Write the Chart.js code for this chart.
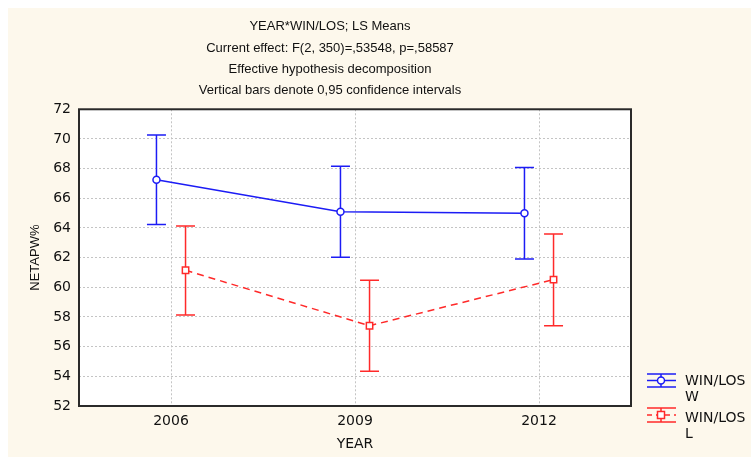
<!DOCTYPE html>
<html>
<head>
<meta charset="utf-8">
<script src="https://cdn.jsdelivr.net/npm/chart.js@4"></script>
<style>
  html, body { margin: 0; padding: 0; background: #ffffff; }
  #panel { position: absolute; left: 8px; top: 8px; width: 743px; height: 449px; background: #fdf8ec; }
</style>
</head>
<body>
<div id="panel"><canvas id="grafico" width="743" height="449"></canvas></div>
<script>
// dados
const years = ["2006", "2009", "2012"];
const wMean = [67.25, 65.1, 65.0];
const wLow = [64.23, 62.03, 61.9];
const wHigh = [70.27, 68.16, 68.07];
const lMean = [61.15, 57.41, 60.52];
const lLow = [58.13, 54.34, 57.41];
const lHigh = [64.14, 60.48, 63.6];
const yTicks = [52, 54, 56, 58, 60, 62, 64, 66, 68, 70, 72];
const titleLines = [
  "YEAR*WIN/LOS; LS Means",
  "Current effect: F(2, 350)=,53548, p=,58587",
  "Effective hypothesis decomposition",
  "Vertical bars denote 0,95 confidence intervals"
];

const BLUE = "#1c1cf5";
const RED = "#ff2a2a";
const shift = 0.079;

function pontos(vals, dx) {
  return vals.map((v, i) => ({ x: i + 1 + dx, y: v }));
}

// barras de erro
const barrasErro = {
  id: "barrasErro",
  beforeDatasetsDraw(chart) {
    const ctx = chart.ctx;
    const y = chart.scales.y;
    chart.data.datasets.forEach((ds, di) => {
      const meta = chart.getDatasetMeta(di);
      ctx.save();
      ctx.strokeStyle = ds.borderColor;
      ctx.lineWidth = 1.5;
      meta.data.forEach((pt, i) => {
        const top = y.getPixelForValue(ds.high[i]);
        const bot = y.getPixelForValue(ds.low[i]);
        ctx.beginPath();
        ctx.moveTo(pt.x, top); ctx.lineTo(pt.x, bot);
        ctx.moveTo(pt.x - 9.5, top); ctx.lineTo(pt.x + 9.5, top);
        ctx.moveTo(pt.x - 9.5, bot); ctx.lineTo(pt.x + 9.5, bot);
        ctx.stroke();
      });
      ctx.restore();
    });
  }
};

// fundo branco da área e moldura
const moldura = {
  id: "moldura",
  beforeDraw(chart) {
    const { ctx, chartArea: a } = chart;
    ctx.save();
    ctx.fillStyle = "#ffffff";
    ctx.fillRect(a.left, a.top, a.right - a.left, a.bottom - a.top);
    ctx.restore();
  },
  afterDraw(chart) {
    const { ctx, chartArea: a } = chart;
    ctx.save();
    ctx.strokeStyle = "#2a2a2a";
    ctx.lineWidth = 2;
    ctx.strokeRect(a.left, a.top, a.right - a.left, a.bottom - a.top);
    ctx.restore();
  }
};

// legenda em duas linhas
const legenda = {
  id: "legenda",
  afterDraw(chart) {
    const ctx = chart.ctx;
    const x0 = 639, x1 = 668, xc = 653;
    const itens = [
      { cor: BLUE, dash: [], top: 366, bot: 379, mid: 372.5, lab: ["WIN/LOS", "W"], ty: 373, box: false },
      { cor: RED, dash: [5, 4], top: 400, bot: 414, mid: 407, lab: ["WIN/LOS", "L"], ty: 410, box: true }
    ];
    ctx.save();
    itens.forEach(it => {
      ctx.strokeStyle = it.cor;
      ctx.lineWidth = 1.5;
      ctx.setLineDash([]);
      ctx.beginPath();
      ctx.moveTo(x0, it.top); ctx.lineTo(x1, it.top);
      ctx.moveTo(x0, it.bot); ctx.lineTo(x1, it.bot);
      ctx.moveTo(xc, it.top); ctx.lineTo(xc, it.bot);
      ctx.stroke();
      ctx.setLineDash(it.dash);
      ctx.beginPath();
      ctx.moveTo(x0, it.mid); ctx.lineTo(x1, it.mid);
      ctx.stroke();
      ctx.setLineDash([]);
      ctx.fillStyle = "#ffffff";
      ctx.beginPath();
      if (it.box) ctx.rect(xc - 3.5, it.mid - 3.5, 7, 7);
      else ctx.arc(xc, it.mid, 3.5, 0, Math.PI * 2);
      ctx.fill(); ctx.stroke();
      ctx.fillStyle = "#111111";
      ctx.font = "14px 'DejaVu Sans'";
      ctx.textBaseline = "middle";
      ctx.fillText(it.lab[0], 677, it.ty);
      ctx.fillText(it.lab[1], 677, it.ty + 16);
    });
    ctx.restore();
  }
};

const ctx = document.getElementById("grafico").getContext("2d");
new Chart(ctx, {
  type: "line",
  data: {
    datasets: [
      {
        label: "WIN/LOS W",
        data: pontos(wMean, -shift),
        low: wLow, high: wHigh,
        borderColor: BLUE,
        backgroundColor: "#ffffff",
        borderWidth: 1.5,
        pointStyle: "circle",
        pointRadius: 3.5,
        pointBorderWidth: 1.5,
        pointBackgroundColor: "#ffffff",
        tension: 0
      },
      {
        label: "WIN/LOS L",
        data: pontos(lMean, shift),
        low: lLow, high: lHigh,
        borderColor: RED,
        backgroundColor: "#ffffff",
        borderWidth: 1.5,
        borderDash: [7, 5],
        pointStyle: "rect",
        pointRadius: 4.5,
        pointBorderWidth: 1.5,
        pointBackgroundColor: "#ffffff",
        tension: 0
      }
    ]
  },
  options: {
    responsive: false,
    animation: false,
    layout: { padding: { left: 0, right: 99, top: 0, bottom: 0 } },
    plugins: {
      legend: { display: false },
      tooltip: { enabled: false },
      title: {
        display: true,
        text: titleLines,
        color: "#111111",
        font: { family: "'Liberation Sans', Arial", size: 13, weight: "normal", lineHeight: 1.64 },
        padding: { top: 8, bottom: 8 }
      }
    },
    scales: {
      x: {
        type: "linear",
        min: 0.5,
        max: 3.5,
        afterBuildTicks: s => { s.ticks = years.map((_, i) => ({ value: i + 1 })); },
        afterFit: s => { s.height = 51; },
        ticks: {
          callback: v => years[v - 1] || "",
          color: "#111111",
          font: { family: "'DejaVu Sans'", size: 14 },
          padding: 7,
          maxRotation: 0
        },
        grid: { color: "#c4c4c4", drawTicks: false },
        border: { display: false, dash: [2, 2] },
        title: {
          display: true,
          text: "YEAR",
          color: "#111111",
          font: { family: "'DejaVu Sans'", size: 14 },
          padding: { top: 0, bottom: 4 }
        }
      },
      y: {
        min: 52,
        max: 72,
        afterBuildTicks: s => { s.ticks = yTicks.map(v => ({ value: v })); },
        afterFit: s => { s.width = 71; },
        ticks: {
          color: "#111111",
          font: { family: "'DejaVu Sans'", size: 14 },
          padding: 8
        },
        grid: { color: "#c4c4c4", drawTicks: false },
        border: { display: false, dash: [2, 2] },
        title: {
          display: true,
          text: "NETAPW%",
          color: "#111111",
          font: { family: "'Liberation Sans', Arial", size: 13 },
          padding: { top: 20, bottom: 0 }
        }
      },
      pad: {
        position: "right",
        display: true,
        afterFit: s => { s.width = 21; },
        ticks: { display: false },
        grid: { display: false },
        border: { display: false }
      }
    }
  },
  plugins: [moldura, barrasErro, legenda]
});
</script>
</body>
</html>
